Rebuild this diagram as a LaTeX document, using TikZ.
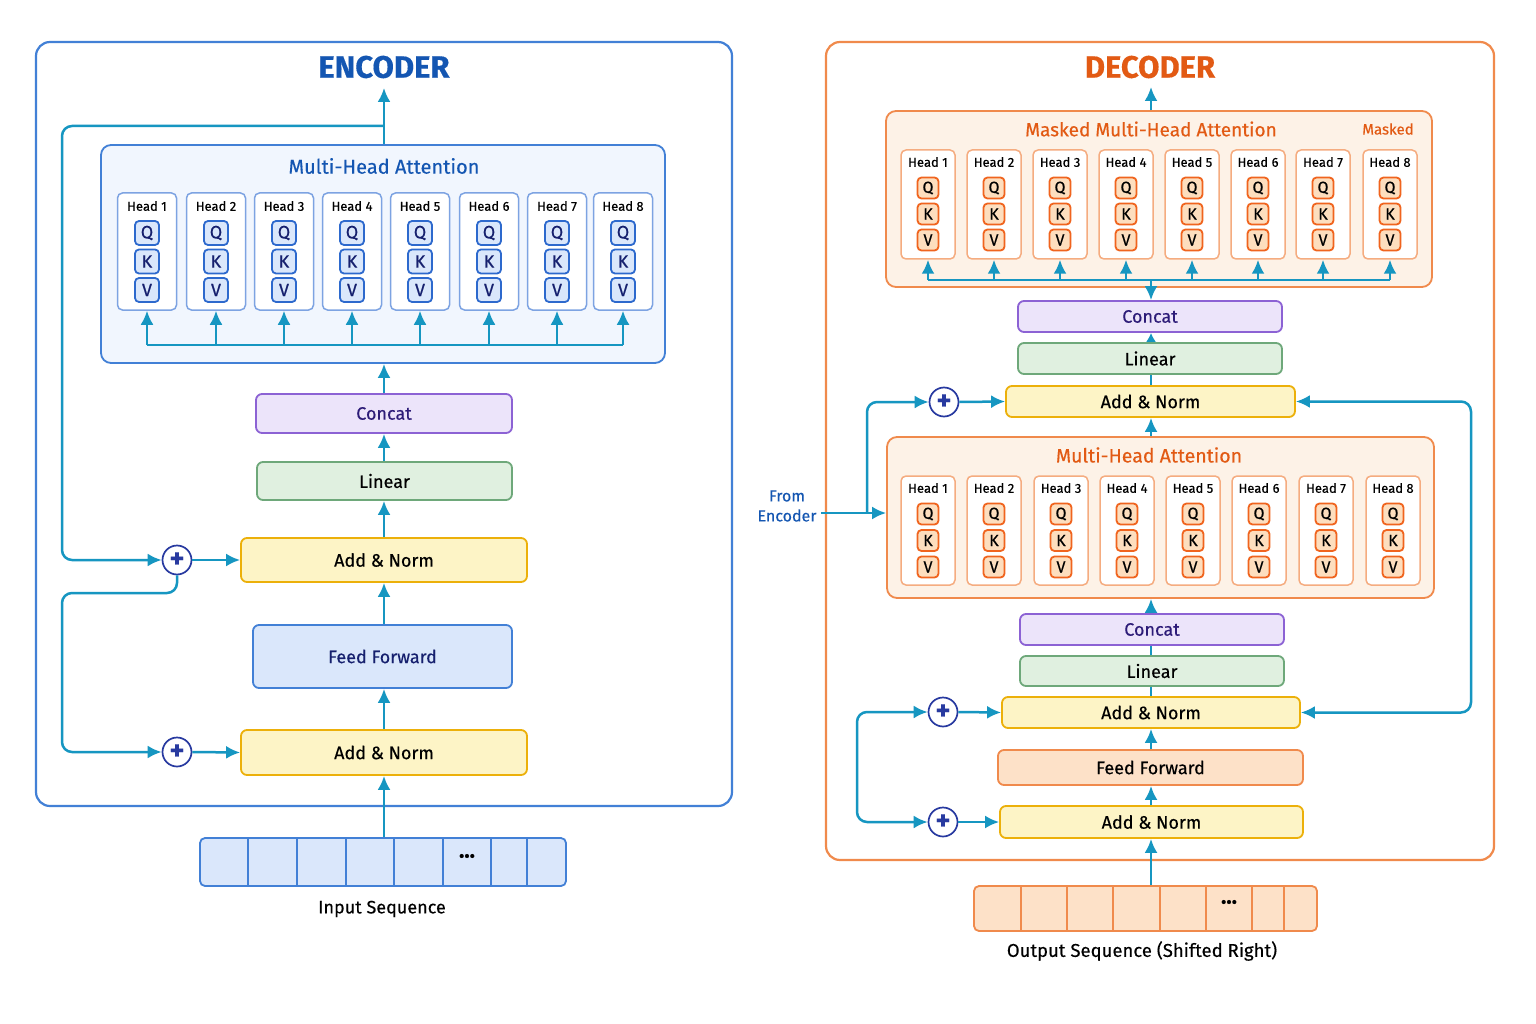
\documentclass[tikz,border=0pt]{standalone}
\usepackage{fontspec}
\setmainfont{Fira Sans}[FakeBold=0.35]
\usetikzlibrary{arrows.meta, positioning, calc}

\definecolor{encblue}{RGB}{66,128,214}
\definecolor{enctitle}{RGB}{20,86,178}
\definecolor{encfill}{RGB}{241,246,254}
\definecolor{qkvblue}{RGB}{218,231,251}
\definecolor{qkvblueline}{RGB}{45,105,205}
\definecolor{headblue}{RGB}{125,163,226}
\definecolor{flowc}{RGB}{22,150,193}
\definecolor{concatfill}{RGB}{236,228,250}
\definecolor{concatline}{RGB}{140,98,212}
\definecolor{concattext}{RGB}{45,28,120}
\definecolor{linfill}{RGB}{224,240,224}
\definecolor{linline}{RGB}{110,168,122}
\definecolor{addfill}{RGB}{253,244,198}
\definecolor{addline}{RGB}{236,176,10}
\definecolor{plusc}{RGB}{40,58,160}
\definecolor{navy}{RGB}{22,32,110}
\definecolor{decorange}{RGB}{240,138,76}
\definecolor{dectitle}{RGB}{226,90,20}
\definecolor{decfill}{RGB}{253,242,231}
\definecolor{qkvorange}{RGB}{253,222,190}
\definecolor{qkvorangeline}{RGB}{240,100,30}
\definecolor{headorange}{RGB}{245,172,128}
\definecolor{fforange}{RGB}{253,225,200}

\tikzset{
  box/.style={draw, rounded corners=6pt, line width=1.8pt, align=center, inner sep=0pt},
  bigbox/.style={draw, rounded corners=14pt, line width=2.2pt, inner sep=0pt},
  headbox/.style={draw, rounded corners=5pt, line width=1.5pt, fill=white, inner sep=0pt},
  headlbl/.style={font=\fontsize{13}{15}\selectfont},
  flowline/.style={draw=flowc, line width=2.5pt},
  flow/.style={flowline, -{Latex[length=14pt,width=13pt]}},
  flowboth/.style={flowline, {Latex[length=14pt,width=13pt]}-{Latex[length=14pt,width=13pt]}},
  shortflow/.style={flowline, -{Latex[length=9pt,width=10pt]}},
  plus/.style={circle, draw=plusc, line width=1.7pt, fill=white, minimum size=29pt,
    inner sep=0pt, text=plusc, font=\fontsize{28}{28}\selectfont\bfseries},
  concatbox/.style={box, fill=concatfill, draw=concatline, text=concattext},
  linbox/.style={box, fill=linfill, draw=linline},
  addbox/.style={box, fill=addfill, draw=addline},
  midfont/.style={font=\fontsize{18}{20}\selectfont},
  encqkv/.style={box, rounded corners=4pt, line width=1.8pt, fill=qkvblue, draw=qkvblueline,
    minimum size=24pt, text=navy, font=\fontsize{18}{18}\selectfont},
  decqkv/.style={box, rounded corners=4pt, line width=1.8pt, fill=qkvorange, draw=qkvorangeline,
    minimum size=21pt, font=\fontsize{16}{16}\selectfont},
}

\begin{document}
\begin{tikzpicture}[x=1pt, y=-1pt]
  \useasboundingbox[fill=white] (0,0) rectangle (1536,1024);

  % ---------------- Encoder ----------------
  \node[bigbox, draw=encblue, minimum width=696pt, minimum height=764pt] (enc) at (384,424) {};
  \node[text=enctitle, font=\fontsize{31}{33}\selectfont\bfseries] (enctitle) at (384,67) {ENCODER};
  \coordinate (espine) at (384,0);

  % multi-head attention block
  \node[box, rounded corners=10pt, fill=encfill, draw=encblue, minimum width=564pt, minimum height=218pt] (emha) at (383,254) {};
  \node[text=enctitle, font=\fontsize{20}{22}\selectfont] (emhatitle) at (384,166) {Multi-Head Attention};
  \coordinate (ebus) at (384,345);
  \foreach \i/\x in {1/147,2/216,3/284,4/352,5/420,6/489,7/557,8/623} {
    \node[headbox, draw=headblue, minimum width=59pt, minimum height=117pt] (eh\i) at (\x,251.5) {};
    \node[headlbl] (ehl\i) at (\x,206) {Head \i};
    \node[encqkv] (eq\i) at (\x,233) {Q};
    \node[encqkv] (ek\i) at (\x,261.5) {K};
    \node[encqkv] (ev\i) at (\x,290) {V};
    \draw[flow] (eh\i |- ebus) -- (eh\i.south);
  }
  \draw[flowline] (eh1 |- ebus) -- (eh8 |- ebus);

  % stack
  \node[concatbox, midfont, minimum width=256pt, minimum height=39pt] (econcat) at (384,413.5) {Concat};
  \node[linbox, midfont, minimum width=255pt, minimum height=38pt] (elin) at (384.5,481) {Linear};
  \node[addbox, midfont, minimum width=286pt, minimum height=44pt] (eadd1) at (384,560) {Add \& Norm};
  \node[box, fill=qkvblue, draw=encblue, text=navy, midfont, minimum width=259pt, minimum height=63pt] (eff) at (382.5,656.5) {Feed Forward};
  \node[addbox, midfont, minimum width=286pt, minimum height=45pt] (eadd2) at (384,752.5) {Add \& Norm};
  \node[plus] (eplus1) at (177,560) {+};
  \node[plus] (eplus2) at (177,752) {+};

  % input sequence
  \node[box, rounded corners=5pt, fill=qkvblue, draw=encblue, minimum width=366pt, minimum height=48pt] (inseq) at (383,862) {};
  \foreach \x in {248,297,346,394,443,491,527}
    \draw[encblue, line width=1.6pt] (\x,838) -- (\x,886);
  \node[font=\fontsize{22}{22}\selectfont\bfseries] (indots) at (467,856) {...};
  \node[font=\fontsize{18}{20}\selectfont] (inlbl) at (382,909) {Input Sequence};

  % encoder arrows
  \coordinate (eout) at (384,88);
  \coordinate (ebranch) at (384,126);
  \draw[flow] (espine |- emha.north) -- (eout);
  \draw[flow] (espine |- econcat.north) -- (espine |- emha.south);
  \draw[flow] (espine |- elin.north) -- (espine |- econcat.south);
  \draw[flow] (espine |- eadd1.north) -- (espine |- elin.south);
  \draw[flow] (espine |- eff.north) -- (espine |- eadd1.south);
  \draw[flow] (espine |- eadd2.north) -- (espine |- eff.south);
  \draw[flow] (espine |- inseq.north) -- (espine |- eadd2.south);
  \draw[flow] (eplus1.east) -- (eadd1.west);
  \draw[flow] (eplus2.east) -- (eadd2.west);
  \draw[flow, rounded corners=10pt] (ebranch) -- (62,126) -- (62,560) -- (eplus1.west);
  \draw[flow, rounded corners=10pt] (eplus1.south) |- (62,593) |- (eplus2.west);

  % ---------------- Decoder ----------------
  \node[bigbox, draw=decorange, minimum width=668pt, minimum height=818pt] (dec) at (1160,451) {};
  \node[text=dectitle, font=\fontsize{31}{33}\selectfont\bfseries] (dectitle) at (1150,67) {DECODER};
  \coordinate (dspine) at (1151,0);

  % masked multi-head attention block
  \node[box, rounded corners=10pt, fill=decfill, draw=decorange, minimum width=546pt, minimum height=176pt] (dmmha) at (1159,199) {};
  \node[text=dectitle, font=\fontsize{19}{21}\selectfont] (dmmhatitle) at (1151,129) {Masked Multi-Head Attention};
  \node[text=dectitle, font=\fontsize{15}{17}\selectfont] (maskedlbl) at (1388,129) {Masked};
  \coordinate (dbus) at (1151,280);
  \foreach \i/\x in {1/928,2/994,3/1060,4/1126,5/1192,6/1258,7/1323,8/1390} {
    \node[headbox, draw=headorange, minimum width=54pt, minimum height=109pt] (mh\i) at (\x,204.5) {};
    \node[headlbl] (mhl\i) at (\x,162) {Head \i};
    \node[decqkv] (mq\i) at (\x,188) {Q};
    \node[decqkv] (mk\i) at (\x,214) {K};
    \node[decqkv] (mv\i) at (\x,240) {V};
    \draw[flow] (mh\i |- dbus) -- (mh\i.south);
  }
  \draw[flowline] (mh1 |- dbus) -- (mh8 |- dbus);

  % upper stack
  \node[concatbox, midfont, minimum width=264pt, minimum height=31pt] (dconcat1) at (1150,316.5) {Concat};
  \node[linbox, midfont, minimum width=264pt, minimum height=31pt] (dlin1) at (1150,358.5) {Linear};
  \node[addbox, midfont, minimum width=289pt, minimum height=31pt] (dadd1) at (1150.5,401.5) {Add \& Norm};
  \node[plus] (dplus1) at (944,402) {+};

  % multi-head attention block
  \node[box, rounded corners=10pt, fill=decfill, draw=decorange, minimum width=547pt, minimum height=161pt] (dmha) at (1160.5,517.5) {};
  \node[text=dectitle, font=\fontsize{19.5}{21}\selectfont] (dmhatitle) at (1149,455) {Multi-Head Attention};
  \foreach \i/\x in {1/928,2/994,3/1061,4/1127,5/1193,6/1259,7/1326,8/1393} {
    \node[headbox, draw=headorange, minimum width=54pt, minimum height=109pt] (dh\i) at (\x,530.5) {};
    \node[headlbl] (dhl\i) at (\x,488) {Head \i};
    \node[decqkv] (dq\i) at (\x,514) {Q};
    \node[decqkv] (dk\i) at (\x,540.5) {K};
    \node[decqkv] (dv\i) at (\x,567) {V};
  }

  % lower stack
  \node[concatbox, midfont, minimum width=264pt, minimum height=31pt] (dconcat2) at (1152,629.5) {Concat};
  \node[linbox, midfont, minimum width=264pt, minimum height=30pt] (dlin2) at (1152,671) {Linear};
  \node[addbox, midfont, minimum width=298pt, minimum height=31pt] (dadd2) at (1151,712.5) {Add \& Norm};
  \node[box, fill=fforange, draw=decorange, midfont, minimum width=305pt, minimum height=35pt] (dff) at (1150.5,767.5) {Feed Forward};
  \node[addbox, midfont, minimum width=303pt, minimum height=32pt] (dadd3) at (1151.5,822) {Add \& Norm};
  \node[plus] (dplus2) at (943,712) {+};
  \node[plus] (dplus3) at (943,822) {+};

  % output sequence
  \node[box, rounded corners=5pt, fill=fforange, draw=decorange, minimum width=343pt, minimum height=45pt] (outseq) at (1145.5,908.5) {};
  \foreach \x in {1021,1067,1113,1160,1206,1252,1284}
    \draw[decorange, line width=1.6pt] (\x,886) -- (\x,931);
  \node[font=\fontsize{22}{22}\selectfont\bfseries] (outdots) at (1229,902) {...};
  \node[font=\fontsize{18.5}{20}\selectfont] (outlbl) at (1142,951) {Output Sequence (Shifted Right)};

  % from encoder
  \node[text=enctitle, align=center, font=\fontsize{16}{20}\selectfont] (fromenc) at (787,506) {From\\Encoder};
  \coordinate (festart) at (821,513);
  \coordinate (fejoin) at (867,513);

  % decoder arrows
  \coordinate (dout) at (1151,87);
  \draw[flow] (dspine |- dmmha.north) -- (dout);
  \draw[flow] (dbus) -- (dspine |- dconcat1.north);
  \draw[shortflow] (dspine |- dlin1.north) -- (dspine |- dconcat1.south);
  \draw[flowline] (dspine |- dadd1.north) -- (dspine |- dlin1.south);
  \draw[flow] (dspine |- dmha.north) -- (dspine |- dadd1.south);
  \draw[flow] (dspine |- dconcat2.north) -- (dspine |- dmha.south);
  \draw[flowline] (dspine |- dlin2.north) -- (dspine |- dconcat2.south);
  \draw[flowline] (dspine |- dadd2.north) -- (dspine |- dlin2.south);
  \draw[flow] (dspine |- dff.north) -- (dspine |- dadd2.south);
  \draw[flow] (dspine |- dadd3.north) -- (dspine |- dff.south);
  \draw[flow] (dspine |- outseq.north) -- (dspine |- dadd3.south);
  \draw[flow] (dplus1.east) -- (dadd1.west);
  \draw[flow] (dplus2.east) -- (dadd2.west);
  \draw[flow] (dplus3.east) -- (dadd3.west);
  \draw[flow] (festart) -- (dmha.west |- festart);
  \draw[flow, rounded corners=10pt] (fejoin) |- (dplus1.west);
  \draw[flowboth, rounded corners=10pt] (dadd1.east) -- (1471,401.5) -- (1471,712.5) -- (dadd2.east);
  \draw[flowboth, rounded corners=10pt] (dplus2.west) -- (857,712) -- (857,822) -- (dplus3.west);
\end{tikzpicture}
\end{document}
